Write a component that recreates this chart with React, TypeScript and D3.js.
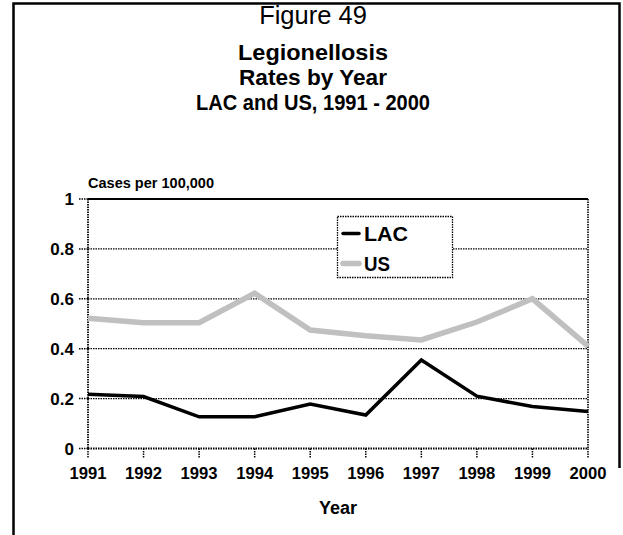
import React from "react";
import * as d3 from "d3";

const years = [1991, 1992, 1993, 1994, 1995, 1996, 1997, 1998, 1999, 2000];
const lacValues = [0.217, 0.208, 0.127, 0.127, 0.178, 0.134, 0.355, 0.21, 0.168, 0.148];
const usValues = [0.522, 0.504, 0.504, 0.622, 0.475, 0.452, 0.435, 0.507, 0.6, 0.41];
const yTicks = [0, 0.2, 0.4, 0.6, 0.8, 1];
const yTickLabels = ["0", "0.2", "0.4", "0.6", "0.8", "1"];

const W = 623;
const H = 535;
const FONT = "'Liberation Sans', Arial, Helvetica, sans-serif";

export default function App() {
  const x = d3.scaleLinear().domain([1991, 2000]).range([88, 588]);
  const y = d3.scaleLinear().domain([0, 1]).range([448.5, 199]);
  const line = d3
    .line<number>()
    .x((_, i) => x(years[i]))
    .y((d) => y(d));

  const dot = "1.5,1";
  return (
    <svg
      width={W}
      height={H}
      style={{ position: "absolute", left: 0, top: 0, background: "#fff" }}
      fontFamily={FONT}
    >
      {/* outer frame */}
      <path d={`M13.5,${H} L13.5,3.5 L619.5,3.5 L619.5,468`} fill="none" stroke="#000" strokeWidth={2.5} />

      <text x={313} y={24} textAnchor="middle" fontSize={25.5}>Figure 49</text>
      <text x={313} y={60} textAnchor="middle" fontSize={22} fontWeight="bold" textLength={150} lengthAdjust="spacingAndGlyphs">Legionellosis</text>
      <text x={313} y={85} textAnchor="middle" fontSize={22} fontWeight="bold" textLength={148} lengthAdjust="spacingAndGlyphs">Rates by Year</text>
      <text x={313} y={110} textAnchor="middle" fontSize={22} fontWeight="bold" textLength={234} lengthAdjust="spacingAndGlyphs">LAC and US, 1991 - 2000</text>

      <text x={88} y={188} fontSize={14} fontWeight="bold" textLength={126} lengthAdjust="spacingAndGlyphs">Cases per 100,000</text>

      {/* gridlines */}
      {yTicks.map((t, i) =>
        t > 0 && t < 1 ? (
          <line key={"g" + i} x1={x(1991)} x2={x(2000)} y1={y(t)} y2={y(t)} stroke="#000" strokeWidth={1.3} strokeDasharray={dot} />
        ) : null
      )}
      {/* top solid line */}
      <line x1={x(1991)} x2={x(2000)} y1={y(1)} y2={y(1)} stroke="#000" strokeWidth={2} />
      {/* right dotted */}
      <line x1={x(2000)} x2={x(2000)} y1={y(1)} y2={y(0)} stroke="#000" strokeWidth={1.6} strokeDasharray={dot} />
      {/* left axis */}
      <line x1={x(1991)} x2={x(1991)} y1={y(1)} y2={y(0)} stroke="#000" strokeWidth={1.8} strokeDasharray={dot} />
      {/* bottom axis */}
      <line x1={x(1991)} x2={x(2000)} y1={y(0)} y2={y(0)} stroke="#000" strokeWidth={1.8} strokeDasharray={dot} />

      {/* y ticks + labels */}
      {yTicks.map((t, i) => (
        <g key={"y" + i}>
          <line x1={79} x2={x(1991)} y1={y(t)} y2={y(t)} stroke="#000" strokeWidth={1.5} strokeDasharray={dot} />
          <text x={74} y={y(t) + 6} textAnchor="end" fontSize={17} fontWeight="bold">{yTickLabels[i]}</text>
        </g>
      ))}

      {/* x ticks + labels */}
      {years.map((yr) => (
        <g key={"x" + yr}>
          <line x1={x(yr)} x2={x(yr)} y1={y(0)} y2={y(0) + 10} stroke="#000" strokeWidth={1.5} strokeDasharray={dot} />
          <text x={x(yr)} y={479} textAnchor="middle" fontSize={17} fontWeight="bold" textLength={37} lengthAdjust="spacingAndGlyphs">{yr}</text>
        </g>
      ))}
      <text x={338} y={514} textAnchor="middle" fontSize={18} fontWeight="bold">Year</text>

      {/* series */}
      <path d={line(usValues) || ""} fill="none" stroke="#c0c0c0" strokeWidth={5.5} strokeLinejoin="miter" />
      <path d={line(lacValues) || ""} fill="none" stroke="#000" strokeWidth={3.5} strokeLinejoin="miter" />

      {/* legend */}
      <rect x={337.5} y={216.5} width={115} height={61} fill="#fff" stroke="#000" strokeWidth={1.3} strokeDasharray={dot} />
      <line x1={343} x2={359} y1={233.5} y2={233.5} stroke="#000" strokeWidth={3.5} strokeLinecap="round" />
      <text x={364} y={241} fontSize={20} fontWeight="bold" textLength={44} lengthAdjust="spacingAndGlyphs">LAC</text>
      <line x1={343} x2={359} y1={263.5} y2={263.5} stroke="#c0c0c0" strokeWidth={5.5} strokeLinecap="round" />
      <text x={364} y={271} fontSize={20} fontWeight="bold" textLength={26} lengthAdjust="spacingAndGlyphs">US</text>
    </svg>
  );
}
